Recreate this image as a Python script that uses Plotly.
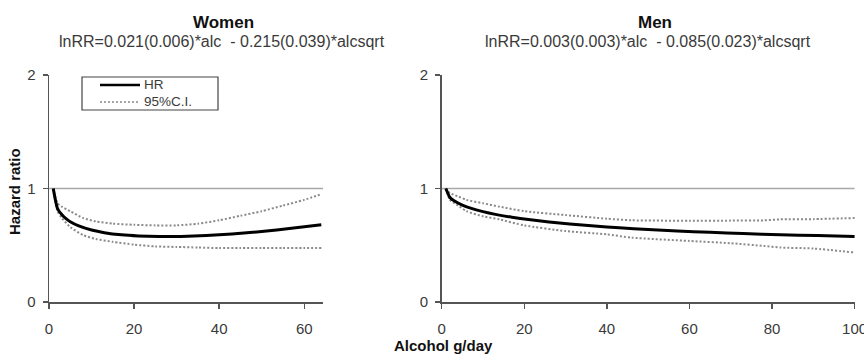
import plotly.graph_objects as go

# ---------------- data ----------------
women_x = [1, 2, 3, 4, 5, 7, 10, 13, 17, 21, 26, 31, 37, 43, 50, 57, 64]
women_hr = [1.0, 0.824, 0.770, 0.734, 0.707, 0.670, 0.634, 0.611, 0.592, 0.582,
            0.577, 0.578, 0.586, 0.600, 0.621, 0.649, 0.681]
women_ci_x = [1, 2, 3, 5, 8, 11, 15, 20, 25, 30, 35, 40, 45, 50, 55, 60, 64]
women_upper = [1.0, 0.87, 0.84, 0.80, 0.74, 0.71, 0.69, 0.68, 0.675, 0.675,
               0.69, 0.72, 0.76, 0.80, 0.85, 0.90, 0.95]
women_lower = [1.0, 0.80, 0.74, 0.66, 0.59, 0.555, 0.53, 0.505, 0.49, 0.485,
               0.48, 0.475, 0.475, 0.475, 0.475, 0.475, 0.475]

men_x = [1, 2, 3, 5, 7, 10, 13, 17, 21, 26, 31, 37, 43, 50, 57, 65, 73, 82, 91, 100]
men_hr = [1.0, 0.921, 0.892, 0.854, 0.827, 0.796, 0.772, 0.747, 0.726, 0.705,
          0.687, 0.669, 0.654, 0.639, 0.626, 0.614, 0.603, 0.593, 0.585, 0.578]
men_ci_x = [1, 2, 4, 6, 10, 14, 20, 30, 40, 46, 60, 70, 78, 82, 90, 100]
men_upper = [1.0, 0.96, 0.93, 0.90, 0.87, 0.84, 0.80, 0.766, 0.734, 0.72,
             0.716, 0.717, 0.719, 0.728, 0.73, 0.74]
men_lower = [1.0, 0.90, 0.85, 0.80, 0.755, 0.728, 0.675, 0.625, 0.596, 0.567,
             0.538, 0.518, 0.494, 0.48, 0.471, 0.436]

ref_women_x = [0, 64.4]
ref_men_x = [0, 100]
ref_y = [1, 1]

y_ticks = [0, 1, 2]
women_xticks = [0, 20, 40, 60]
men_xticks = [0, 20, 40, 60, 80, 100]

titles = ["Women", "Men"]
subtitles = ["lnRR=0.021(0.006)*alc  - 0.215(0.039)*alcsqrt",
             "lnRR=0.003(0.003)*alc  - 0.085(0.023)*alcsqrt"]
y_title = "Hazard ratio"
x_title = "Alcohol g/day"
legend_labels = ["HR", "95%C.I."]

# ---------------- styling ----------------
W, H = 864, 356
FONT = "Liberation Sans, Arial, sans-serif"
AXIS_COL = "#555555"
TEXT_COL = "#3a3a3a"
HR_COL = "#000000"
CI_COL = "#8a8a8a"
REF_COL = "#a8a8a8"


def px(x):
    return x / W


def py(y):
    return 1 - y / H


fig = go.Figure()

panels = [
    ("x", "y", ref_women_x, women_x, women_hr, women_ci_x, women_upper, women_lower),
    ("x2", "y2", ref_men_x, men_x, men_hr, men_ci_x, men_upper, men_lower),
]
for xa, ya, rx, hx, hy, cx, cu, cl in panels:
    fig.add_trace(go.Scatter(x=rx, y=ref_y, mode="lines", xaxis=xa, yaxis=ya,
                             line=dict(color=REF_COL, width=1.5), showlegend=False,
                             hoverinfo="skip", cliponaxis=False))
    for ci in (cu, cl):
        fig.add_trace(go.Scatter(x=cx, y=ci, mode="lines", xaxis=xa, yaxis=ya,
                                 line=dict(color=CI_COL, width=2, dash="2px,2px",
                                           shape="spline", smoothing=0.6),
                                 showlegend=False, hoverinfo="skip", cliponaxis=False))
    fig.add_trace(go.Scatter(x=hx, y=hy, mode="lines", xaxis=xa, yaxis=ya,
                             line=dict(color=HR_COL, width=3, shape="spline", smoothing=0.6),
                             showlegend=False, hoverinfo="skip", cliponaxis=False))

ydom = [py(302), py(75)]
axis_common = dict(showline=True, linecolor=AXIS_COL, linewidth=1.5, showgrid=False,
                   zeroline=False, ticks="outside", ticklen=5, tickwidth=1.5,
                   automargin=False, ticklabeloverflow="allow",
                   tickcolor=AXIS_COL, tickfont=dict(family=FONT, size=15, color=TEXT_COL))

fig.update_layout(
    width=W, height=H,
    margin=dict(l=0, r=0, t=0, b=0, autoexpand=False),
    paper_bgcolor="white", plot_bgcolor="white",
    showlegend=False,
    xaxis=dict(domain=[px(49), px(323)], range=[0, 64.4], tickvals=women_xticks,
               anchor="y", ticklabelstandoff=7, **axis_common),
    yaxis=dict(domain=ydom, range=[0, 2], tickvals=y_ticks, anchor="x",
               ticklabelstandoff=4, **axis_common),
    xaxis2=dict(domain=[px(441.7), px(855)], range=[0, 100.1], tickvals=men_xticks,
                anchor="y2", ticklabelstandoff=7, **axis_common),
    yaxis2=dict(domain=ydom, range=[0, 2], tickvals=y_ticks, anchor="x2",
                ticklabelstandoff=4, **axis_common),
)

ann = []
title_pos = [(223, 22, 222, 41), (655, 22, 648, 41)]
for t, s, (tx, ty, sx, sy) in zip(titles, subtitles, title_pos):
    ann.append(dict(text="<b>%s</b>" % t, x=px(tx), y=py(ty), xref="paper", yref="paper",
                    showarrow=False, xanchor="center", yanchor="middle",
                    font=dict(family=FONT, size=17, color="#111111")))
    ann.append(dict(text=s, x=px(sx), y=py(sy), xref="paper", yref="paper",
                    showarrow=False, xanchor="center", yanchor="middle",
                    font=dict(family=FONT, size=16, color=TEXT_COL)))
ann.append(dict(text="<b>%s</b>" % y_title, x=px(14), y=py(192), xref="paper", yref="paper",
                showarrow=False, textangle=-90, xanchor="center", yanchor="middle",
                font=dict(family=FONT, size=15, color="#111111")))
ann.append(dict(text="<b>%s</b>" % x_title, x=px(444), y=py(345), xref="paper", yref="paper",
                showarrow=False, xanchor="center", yanchor="middle",
                font=dict(family=FONT, size=15, color="#111111")))
# legend text
for lab, ly in zip(legend_labels, (85, 102)):
    ann.append(dict(text=lab, x=px(142), y=py(ly), xref="paper", yref="paper",
                    showarrow=False, xanchor="left", yanchor="middle",
                    font=dict(family=FONT, size=13.5, color=TEXT_COL)))
fig.update_layout(annotations=ann)

# legend box and samples
fig.add_shape(type="rect", xref="paper", yref="paper", x0=px(82), x1=px(218),
              y0=py(110), y1=py(77), line=dict(color="#444444", width=1.2),
              fillcolor="rgba(0,0,0,0)")
fig.add_shape(type="line", xref="paper", yref="paper", x0=px(100), x1=px(140),
              y0=py(85), y1=py(85), line=dict(color=HR_COL, width=2.5))
fig.add_shape(type="line", xref="paper", yref="paper", x0=px(100), x1=px(140),
              y0=py(102), y1=py(102), line=dict(color=CI_COL, width=1.5, dash="2px,2px"))

fig.write_html("out.html", config={"displayModeBar": False, "staticPlot": True},
               post_script="document.body.style.margin='0';document.body.style.overflow='hidden';")
